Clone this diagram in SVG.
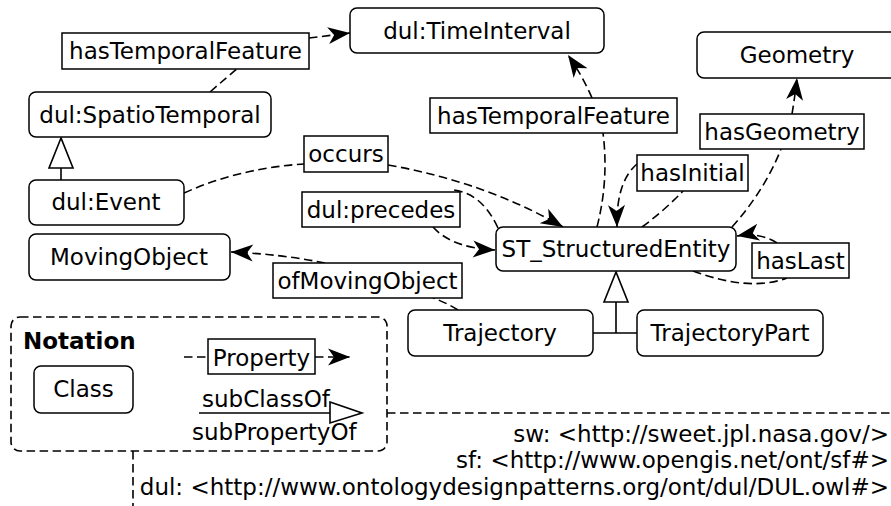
<svg xmlns="http://www.w3.org/2000/svg" width="891" height="506" viewBox="0 0 891 506">
<style>
text{font-family:"DejaVu Sans","Liberation Sans",sans-serif;font-size:23px;fill:#000}
.c{text-anchor:middle}
.node{fill:#fff;stroke:#000;stroke-width:1.5}
.lbl{fill:#fff;stroke:#000;stroke-width:1.5}
.d{fill:none;stroke:#000;stroke-width:1.6;stroke-dasharray:8.5,4.5}
.s{fill:none;stroke:#000;stroke-width:1.6}
.tri{fill:#fff;stroke:#000;stroke-width:1.6}
</style>
<defs>
<marker id="arr" viewBox="-24 -10 25 20" refX="0" refY="0" markerWidth="25" markerHeight="20" markerUnits="userSpaceOnUse" orient="auto">
<path d="M0,0 L-22,-8.5 L-16,0 L-22,8.5 Z" fill="#000"/>
</marker>
</defs>

<g id="frame">
<path class="d" d="M387,413 L891,413"/>
<path class="d" d="M133,451 L133,506"/>
</g>

<g id="connectors">
<path class="d" d="M210,92 Q226,78 238,68"/>
<path class="d" d="M309,38 L350,33" marker-end="url(#arr)"/>
<path class="d" d="M597,227 Q609,180 603,133"/>
<path class="d" d="M592,98 Q582,75 568,55" marker-end="url(#arr)"/>
<path class="d" d="M732,227 Q765,190 781,149"/>
<path class="d" d="M792,114 Q795,96 797,78" marker-end="url(#arr)"/>
<path class="d" d="M642,227 Q665,210 683,191"/>
<path class="d" d="M637,164 Q616,182 617,227" marker-end="url(#arr)"/>
<path class="d" d="M693,271 Q750,292 787,278"/>
<path class="d" d="M777,243 Q760,232 737,236" marker-end="url(#arr)"/>
<path class="d" d="M184,193 Q240,168 304,164"/>
<path class="d" d="M388,165 Q485,182 563,227" marker-end="url(#arr)"/>
<path class="d" d="M498,228 Q482,193 453,190"/>
<path class="d" d="M433,227 Q452,248 495,250" marker-end="url(#arr)"/>
<path class="d" d="M458,310 Q445,302 433,298"/>
<path class="d" d="M325,263 Q280,254 231,252" marker-end="url(#arr)"/>
<path class="s" d="M61,168 L61,180"/>
<polygon class="tri" points="61,138 49,168 73,168"/>
<path class="s" d="M616,302 L616,333 M593,333 L637,333"/>
<polygon class="tri" points="616,272 604,302 628,302"/>
</g>

<g id="n-timeinterval"><rect class="node" x="350" y="8" width="254" height="45" rx="7"/><text class="c" x="477" y="39">dul:TimeInterval</text></g>
<g id="n-geometry"><rect class="node" x="697" y="32" width="200" height="46" rx="7"/><text class="c" x="797" y="63">Geometry</text></g>
<g id="n-spatiotemporal"><rect class="node" x="29" y="92" width="242" height="45" rx="7"/><text class="c" x="150" y="123">dul:SpatioTemporal</text></g>
<g id="n-event"><rect class="node" x="29" y="180" width="155" height="45" rx="7"/><text class="c" x="106" y="210">dul:Event</text></g>
<g id="n-movingobject"><rect class="node" x="29" y="234" width="201" height="46" rx="7"/><text class="c" x="129" y="265">MovingObject</text></g>
<g id="n-st"><rect class="node" x="496" y="227" width="240" height="44" rx="7"/><text class="c" x="616" y="257">ST_StructuredEntity</text></g>
<g id="n-trajectory"><rect class="node" x="408" y="310" width="185" height="46" rx="7"/><text class="c" x="500" y="341">Trajectory</text></g>
<g id="n-trajectorypart"><rect class="node" x="637" y="310" width="186" height="46" rx="7"/><text class="c" x="730" y="341">TrajectoryPart</text></g>

<g id="l-htf1"><rect class="lbl" x="62" y="33" width="247" height="36"/><text class="c" x="185.5" y="59">hasTemporalFeature</text></g>
<g id="l-htf2"><rect class="lbl" x="430" y="98" width="247" height="35"/><text class="c" x="553.5" y="124">hasTemporalFeature</text></g>
<g id="l-hasgeometry"><rect class="lbl" x="700" y="114" width="164" height="35"/><text class="c" x="782" y="140">hasGeometry</text></g>
<g id="l-hasinitial"><rect class="lbl" x="637" y="155" width="111" height="36"/><text class="c" x="692.5" y="181">hasInitial</text></g>
<g id="l-occurs"><rect class="lbl" x="304" y="136" width="84" height="36"/><text class="c" x="346" y="162">occurs</text></g>
<g id="l-precedes"><rect class="lbl" x="302" y="192" width="158" height="35"/><text class="c" x="381" y="218">dul:precedes</text></g>
<g id="l-hasLast"><rect class="lbl" x="752" y="243" width="97" height="35"/><text class="c" x="800.5" y="269">hasLast</text></g>
<g id="l-ofmovingobject"><rect class="lbl" x="273" y="263" width="189" height="35"/><text class="c" x="367.5" y="289">ofMovingObject</text></g>

<g id="notation">
<rect x="11" y="317" width="376" height="134" rx="9" fill="#fff" stroke="#000" stroke-width="1.6" stroke-dasharray="8.5,4.5"/>
<text x="23" y="349" font-weight="bold">Notation</text>
<rect class="node" x="34" y="366" width="99" height="47" rx="7"/><text class="c" x="83.5" y="397">Class</text>
<path class="d" d="M184,357 L208,357"/>
<path class="d" d="M315,357 L350,357" marker-end="url(#arr)"/>
<rect class="lbl" x="208" y="339" width="107" height="35"/><text class="c" x="261.5" y="366">Property</text>
<text x="202" y="407">subClassOf</text>
<path class="s" d="M199,413 L330,413"/>
<polygon class="tri" points="330,402 362,413 330,423"/>
<text x="192" y="440">subPropertyOf</text>
</g>

<g id="prefixes">
<text x="889" y="442" text-anchor="end">sw: &lt;http://sweet.jpl.nasa.gov/&gt;</text>
<text x="889" y="468" text-anchor="end">sf: &lt;http://www.opengis.net/ont/sf#&gt;</text>
<text x="889" y="495" text-anchor="end">dul: &lt;http://www.ontologydesignpatterns.org/ont/dul/DUL.owl#&gt;</text>
</g>
</svg>
